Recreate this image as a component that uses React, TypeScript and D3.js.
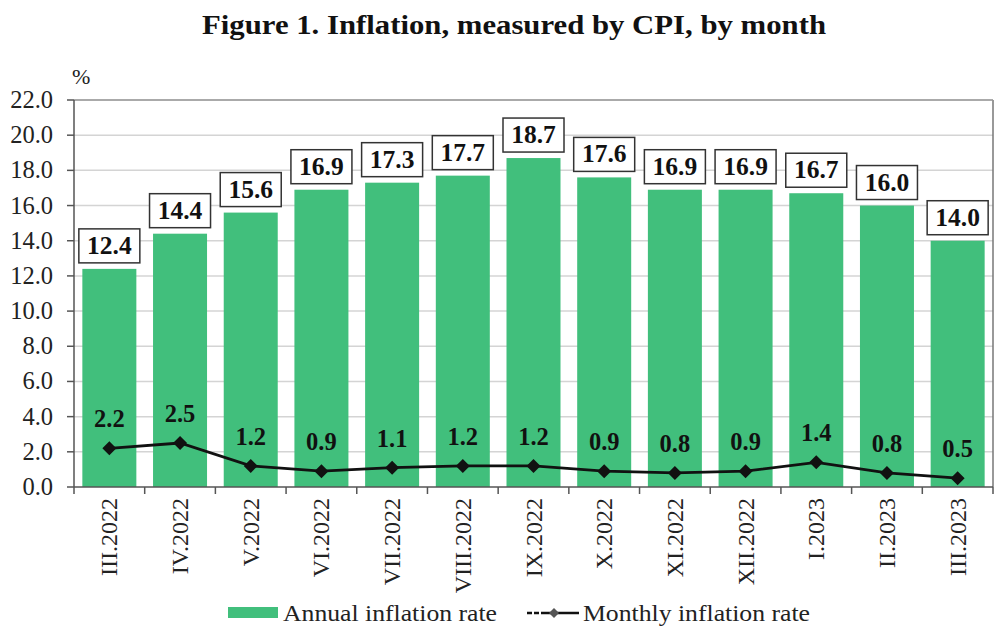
import React from "react";
import * as d3 from "d3";

const categories = ["III.2022","IV.2022","V.2022","VI.2022","VII.2022","VIII.2022","IX.2022","X.2022","XI.2022","XII.2022","I.2023","II.2023","III.2023"];
const annual = [12.4,14.4,15.6,16.9,17.3,17.7,18.7,17.6,16.9,16.9,16.7,16.0,14.0];
const monthly = [2.2,2.5,1.2,0.9,1.1,1.2,1.2,0.9,0.8,0.9,1.4,0.8,0.5];
const yTicks = [0,2,4,6,8,10,12,14,16,18,20,22];

const W = 1000, H = 636;
const left = 74, right = 993, top = 100, bottom = 487;
const F = "Liberation Serif";
const GREEN = "#41BF7C";

export default function App() {
  const xb = d3.scaleBand<string>().domain(categories).range([left, right]);
  const y = d3.scaleLinear().domain([0, 22]).range([bottom, top]);
  const line = d3.line<number>().x((_, i) => xb(categories[i])! + xb.bandwidth() / 2).y(d => y(d));
  const fmt = d3.format(".1f");
  return (
    <svg width={W} height={H} fontFamily={F} style={{ position: "absolute", left: 0, top: 0, background: "#fff" }}>
      <rect x={0} y={0} width={W} height={H} fill="#fff" />
      <text x={202} y={34} fontFamily={F} fontSize={28} fontWeight="bold" fill="#111" textLength={624} lengthAdjust="spacingAndGlyphs">Figure 1. Inflation, measured by CPI, by month</text>
      <text x={72} y={84} fontFamily={F} fontSize={22} fill="#222">%</text>
      {yTicks.map(t => (
        <g key={t}>
          {t > 0 && <line x1={left} x2={right} y1={y(t)} y2={y(t)} stroke="#d4d4d4" strokeWidth={1.5} />}
          <line x1={left - 7} x2={left} y1={y(t)} y2={y(t)} stroke="#555" strokeWidth={1.5} />
          <text x={53} y={y(t) + 8} textAnchor="end" fontFamily={F} fontSize={24.5} fill="#222">{fmt(t)}</text>
        </g>
      ))}
      <line x1={right} x2={right} y1={top} y2={bottom} stroke="#777" strokeWidth={1.5} />
      <line x1={left} x2={right} y1={top} y2={top} stroke="#999" strokeWidth={1.5} />
      {categories.map((c, i) => (
        <rect key={c} x={xb(c)! + (xb.bandwidth() - 54) / 2} width={54} y={y(annual[i])} height={bottom - y(annual[i])} fill={GREEN} />
      ))}
      <line x1={left} x2={left} y1={top} y2={bottom} stroke="#555" strokeWidth={1.5} />
      <line x1={left} x2={right} y1={bottom} y2={bottom} stroke="#555" strokeWidth={1.5} />
      {categories.map(c => (
        <line key={"t" + c} x1={xb(c)!} x2={xb(c)!} y1={bottom} y2={bottom + 7} stroke="#555" strokeWidth={1.5} />
      ))}
      <line x1={right} x2={right} y1={bottom} y2={bottom + 7} stroke="#555" strokeWidth={1.5} />
      {categories.map((c, i) => {
        const cx = xb(c)! + xb.bandwidth() / 2;
        const by = y(annual[i]) - 6;
        return (
          <g key={"l" + c}>
            <rect x={cx - 30.5} y={by - 34} width={61} height={34} fill="#fff" stroke="#333" strokeWidth={1.5} />
            <text x={cx} y={by - 9} textAnchor="middle" fontFamily={F} fontSize={25.5} fontWeight="bold" fill="#111">{fmt(annual[i])}</text>
          </g>
        );
      })}
      <path d={line(monthly)!} fill="none" stroke="#111" strokeWidth={2.8} />
      {categories.map((c, i) => {
        const cx = xb(c)! + xb.bandwidth() / 2;
        const cy = y(monthly[i]);
        return (
          <g key={"m" + c}>
            <path d={`M${cx},${cy - 7}L${cx + 7},${cy}L${cx},${cy + 7}L${cx - 7},${cy}Z`} fill="#111" />
            <text x={cx} y={cy - 21} textAnchor="middle" fontFamily={F} fontSize={24.5} fontWeight="bold" fill="#111">{fmt(monthly[i])}</text>
          </g>
        );
      })}
      {categories.map(c => {
        const cx = xb(c)! + xb.bandwidth() / 2;
        return (
          <text key={"x" + c} transform={`translate(${cx + 8},${bottom + 11}) rotate(-90)`} textAnchor="end" fontFamily={F} fontSize={24} fill="#222">{c}</text>
        );
      })}
      <rect x={228} y={607} width={50} height={11} fill={GREEN} />
      <text x={283} y={621} fontFamily={F} fontSize={24} fill="#222" textLength={214} lengthAdjust="spacingAndGlyphs">Annual inflation rate</text>
      <line x1={527} x2={546} y1={613} y2={613} stroke="#111" strokeWidth={2.5} strokeDasharray="5,2" />
      <line x1={546} x2={579} y1={613} y2={613} stroke="#111" strokeWidth={2.5} />
      <path d="M554,608L559,613L554,618L549,613Z" fill="#555" />
      <text x={583} y={621} fontFamily={F} fontSize={24} fill="#222" textLength={227} lengthAdjust="spacingAndGlyphs">Monthly inflation rate</text>
    </svg>
  );
}
